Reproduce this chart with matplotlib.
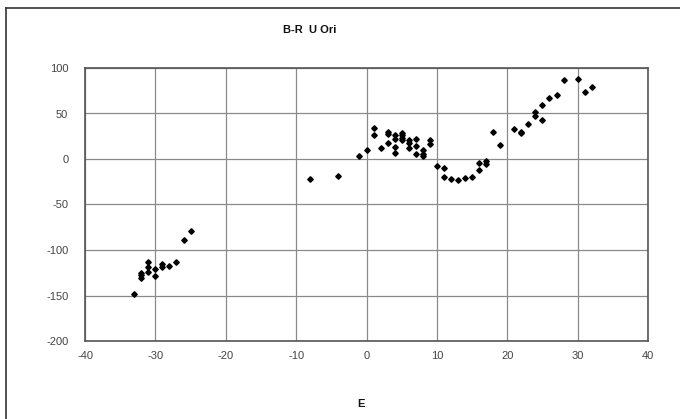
import matplotlib
matplotlib.use("Agg")
import matplotlib.pyplot as plt
from matplotlib.lines import Line2D

plt.rcParams['font.family'] = ['Liberation Sans', 'DejaVu Sans']
plt.rcParams['axes.unicode_minus'] = False

E = [-33, -32, -32, -32, -31, -31, -31, -30, -30, -29, -29, -28, -27, -26, -25,
     -8, -4, -1, 0, 1, 1, 2, 3, 3, 3, 4, 4, 4, 4, 5, 5, 5, 5,
     6, 6, 6, 7, 7, 7, 8, 8, 8, 9, 9,
     10, 11, 11, 12, 13, 14, 15, 16, 16, 17, 17,
     18, 19, 21, 22, 22, 23, 24, 24, 25, 25, 26, 27, 28, 30, 31, 32]
BR = [-148, -125, -128, -131, -113, -119, -124, -121, -129, -115, -119, -118, -113, -89, -79,
      -22, -19, 3, 10, 34, 26, 12, 30, 27, 18, 26, 22, 13, 7, 29, 26, 23, 21,
      21, 18, 12, 22, 14, 6, 10, 6, 3, 21, 16,
      -8, -10, -20, -22, -23, -21, -20, -12, -4, -2, -6,
      30, 15, 33, 30, 29, 39, 52, 47, 43, 59, 67, 70, 87, 88, 74, 79]

x_ticks = [-40, -30, -20, -10, 0, 10, 20, 30, 40]
y_ticks = [-200, -150, -100, -50, 0, 50, 100]

fig = plt.figure(figsize=(6.8, 4.19), dpi=100)
ax = fig.add_axes([85/680, 1-341/419, (648-85)/680, (341-68)/419])

ax.plot(E, BR, linestyle='none', marker='D', markersize=2.8, color='black', zorder=3)

ax.set_xlim(-40, 40)
ax.set_ylim(-200, 100)
ax.set_xticks(x_ticks)
ax.set_yticks(y_ticks)
ax.grid(True, color='#8a8a8a', linewidth=0.9)
ax.set_axisbelow(True)
for s in ax.spines.values():
    s.set_color('#555555')
    s.set_linewidth(1.2)
ax.tick_params(axis='both', length=0, labelsize=8, colors='#444444')
ax.tick_params(axis='x', pad=7)
ax.tick_params(axis='y', pad=12)

fig.text(310/680, 1-30/419, 'B-R  U Ori', ha='center', va='center',
         fontsize=8, fontweight='bold', color='#111111')
fig.text(361/680, 1-404/419, 'E', ha='center', va='center',
         fontsize=8, fontweight='bold', color='#111111')

fig.add_artist(Line2D([6/680, 1], [1-8/419, 1-8/419], transform=fig.transFigure,
                      color='#333333', linewidth=1.2))
fig.add_artist(Line2D([6/680, 6/680], [0, 1-8/419], transform=fig.transFigure,
                      color='#333333', linewidth=1.2))

fig.savefig('out.png', dpi=100)
